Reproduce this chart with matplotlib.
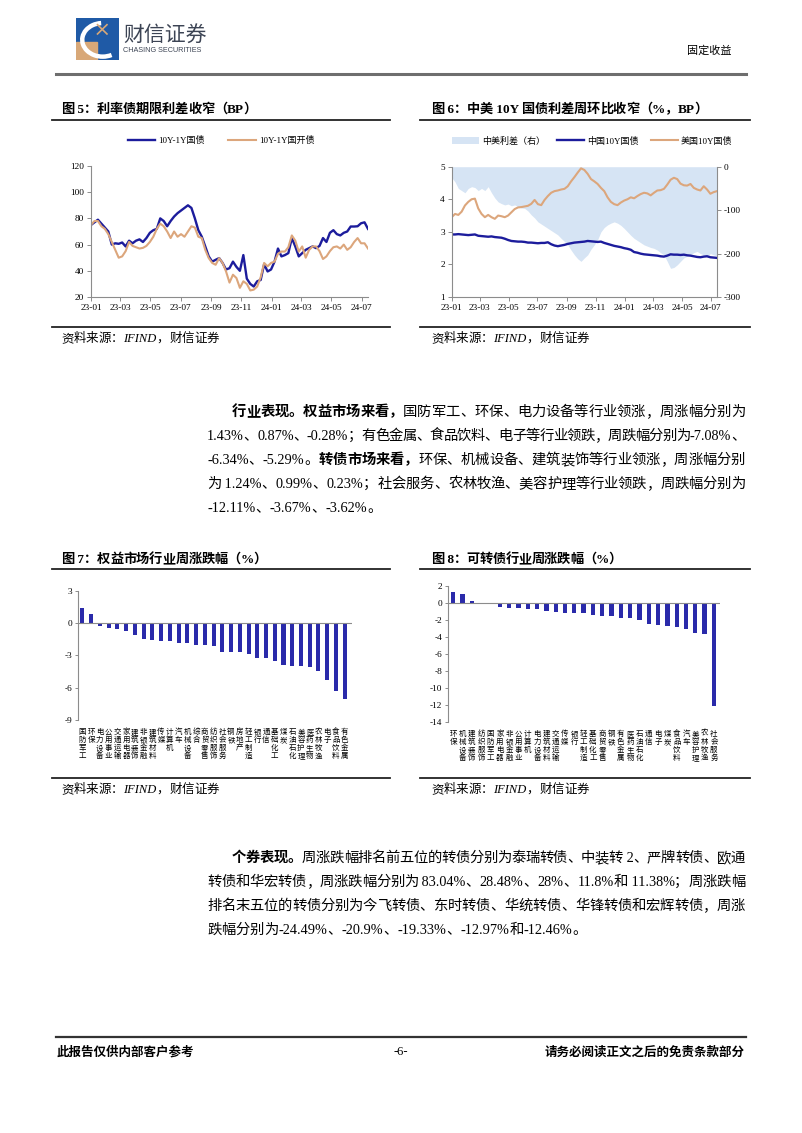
import matplotlib
matplotlib.use('Agg')
import matplotlib.pyplot as plt
import matplotlib.dates as mdates
from matplotlib import patches
from matplotlib.lines import Line2D
import numpy as np
import pandas as pd

# ---------------- data ----------------
dates = pd.date_range('2023-01-01', periods=81, freq='7D')

# 图5 10Y-1Y 期限利差 (BP)
term_gz = [75, 77, 79, 76, 73, 70, 60, 61, 60.6, 61.6,
           58.6, 63, 61, 63, 64, 62, 65, 69, 71, 72,
           80, 78, 74, 78, 81.4, 84, 86, 88, 90, 88,
           80, 71, 66, 58.6, 51, 47, 48.4, 49.7, 46, 41,
           42, 47, 43, 40, 52, 34, 30, 28, 32, 33,
           45, 39.5, 41, 47, 57, 51, 52, 53.5, 65, 58.6,
           51, 53.5, 56, 57.3, 58.6, 57.3, 59, 65, 62, 69,
           71, 68, 67, 69, 70, 73.8, 73.8, 74, 76.3, 77,
           72]
term_gk = [75, 78, 78, 74, 72, 68, 62, 56, 50, 51,
           55, 62, 59, 58, 57, 57.5, 59, 62, 66, 72,
           76, 74, 70, 65, 70, 66, 68, 66, 70, 74,
           73, 66, 65, 56, 49.7, 46, 44.6, 49.7, 46, 39.5,
           31, 37, 34.5, 27, 32, 30, 25, 25.6, 28, 35,
           46, 43.4, 46, 47, 53, 54.7, 54.7, 58, 67, 63,
           54.7, 58.6, 50, 56, 58.6, 58.6, 55, 49, 51, 55,
           58, 58.6, 57, 60, 56, 58, 62, 65, 61, 61,
           57]

# 图6 中美10Y国债 (%) 与利差 (BP)
cn10y = [2.92, 2.92, 2.93, 2.92, 2.91, 2.90, 2.91, 2.92, 2.88, 2.87,
         2.86, 2.85, 2.86, 2.84, 2.83, 2.82, 2.79, 2.75, 2.72, 2.71,
         2.70, 2.70, 2.69, 2.67, 2.67, 2.66, 2.65, 2.66, 2.66, 2.68,
         2.62, 2.58, 2.56, 2.58, 2.60, 2.63, 2.65, 2.67, 2.68, 2.69,
         2.70, 2.72, 2.71, 2.70, 2.69, 2.70, 2.66, 2.63, 2.60, 2.57,
         2.55, 2.53, 2.50, 2.48, 2.45, 2.38, 2.36, 2.33, 2.31, 2.30,
         2.29, 2.28, 2.27, 2.25, 2.24, 2.27, 2.31, 2.30, 2.30, 2.29,
         2.30, 2.28, 2.27, 2.25, 2.23, 2.22, 2.24, 2.25, 2.22, 2.21,
         2.20]
us10y = [3.45, 3.55, 3.52, 3.62, 3.81, 3.92, 4.00, 4.02, 3.72, 3.55,
         3.45, 3.52, 3.45, 3.40, 3.50, 3.48, 3.45, 3.50, 3.60, 3.70,
         3.75, 3.76, 3.78, 3.80, 3.86, 3.98, 3.85, 3.82, 3.98, 4.10,
         4.20, 4.25, 4.27, 4.30, 4.32, 4.40, 4.55, 4.68, 4.82, 4.95,
         4.90, 4.78, 4.62, 4.55, 4.47, 4.35, 4.25, 4.06, 3.92, 3.85,
         3.82, 3.90, 3.96, 4.00, 4.06, 4.03, 4.10, 4.16, 4.20, 4.18,
         4.12, 4.20, 4.27, 4.28, 4.32, 4.45, 4.60, 4.66, 4.62, 4.48,
         4.43, 4.42, 4.47, 4.35, 4.30, 4.27, 4.40, 4.30, 4.17, 4.22,
         4.25]
cn_us_spread = [-25, -35, -50, -55, -60, -50, -46, -48, -55, -50,
                -55, -46, -60, -72, -81, -85, -88, -86, -90, -88,
                -92, -95, -96, -102, -111, -118, -127, -132, -137, -142,
                -147, -152, -157, -165, -172, -180, -192, -203, -212, -218,
                -210, -203, -190, -180, -168, -150, -140, -134, -130, -127,
                -130, -135, -142, -150, -158, -165, -170, -175, -180, -183,
                -186, -188, -192, -198, -203, -218, -234, -232, -226, -218,
                -210, -206, -203, -198, -195, -200, -203, -208, -200, -203,
                -205]

# 图7 权益市场行业周涨跌幅 (%)
eq_inds = ['国防军工', '环保', '电力设备', '公用事业', '交通运输', '家用电器', '建筑装饰',
           '非银金融', '建筑材料', '传媒', '计算机', '汽车', '机械设备', '综合', '商贸零售',
           '纺织服饰', '社会服务', '钢铁', '房地产', '轻工制造', '银行', '通信', '基础化工',
           '煤炭', '石油石化', '美容护理', '医药生物', '农林牧渔', '电子', '食品饮料', '有色金属']
eq_chg = [1.43, 0.87, -0.28, -0.50, -0.60, -0.70, -1.10, -1.45, -1.55, -1.70, -1.70,
          -1.90, -1.90, -2.05, -2.05, -2.15, -2.70, -2.70, -2.70, -2.90, -3.25, -3.25,
          -3.55, -3.90, -4.00, -4.00, -4.07, -4.45, -5.29, -6.34, -7.08]

# 图8 可转债行业周涨跌幅 (%)
cb_inds = ['环保', '机械设备', '建筑装饰', '纺织服饰', '国防军工', '家用电器', '非银金融',
           '公用事业', '计算机', '电力设备', '建筑材料', '交通运输', '传媒', '银行', '轻工制造',
           '基础化工', '商贸零售', '钢铁', '有色金属', '医药生物', '石油石化', '通信', '电子',
           '煤炭', '食品饮料', '汽车', '美容护理', '农林牧渔', '社会服务']
cb_chg = [1.24, 0.99, 0.23, -0.10, -0.20, -0.47, -0.67, -0.67, -0.78, -0.78, -0.94,
          -1.06, -1.18, -1.18, -1.25, -1.45, -1.57, -1.57, -1.80, -1.80, -2.04, -2.50,
          -2.63, -2.75, -2.86, -3.06, -3.62, -3.67, -12.11]

para1 = [
    [('行业表现。权益市场来看，', True), ('国防军工、环保、电力设备等行业领涨，周涨幅分别为', False)],
    [('1.43%、0.87%、-0.28%；有色金属、食品饮料、电子等行业领跌，周跌幅分别为-7.08%、', False)],
    [('-6.34%、-5.29%。', False), ('转债市场来看，', True), ('环保、机械设备、建筑装饰等行业领涨，周涨幅分别', False)],
    [('为 1.24%、0.99%、0.23%；社会服务、农林牧渔、美容护理等行业领跌，周跌幅分别为', False)],
    [('-12.11%、-3.67%、-3.62%。', False)],
]
para2 = [
    [('个券表现。', True), ('周涨跌幅排名前五位的转债分别为泰瑞转债、中装转 2、严牌转债、欧通', False)],
    [('转债和华宏转债，周涨跌幅分别为 83.04%、28.48%、28%、11.8%和 11.38%；周涨跌幅', False)],
    [('排名末五位的转债分别为今飞转债、东时转债、华统转债、华锋转债和宏辉转债，周涨', False)],
    [('跌幅分别为-24.49%、-20.9%、-19.33%、-12.97%和-12.46%。', False)],
]

# ---------------- style ----------------
FAM = ['Liberation Serif', 'Noto Sans CJK SC']
plt.rcParams['font.family'] = FAM
plt.rcParams['axes.unicode_minus'] = False

BLUE = '#1c1c9c'
TAN = '#dca67c'
SHADE = '#d6e4f4'
BAR = '#2a2aaa'
AXC = '#8c8c8c'

W, H = 802, 1133
fig = plt.figure(figsize=(W / 100, H / 100), dpi=100)
renderer = fig.canvas.get_renderer()


def ax_px(l, t, r, b):
    return fig.add_axes([l / W, 1 - b / H, (r - l) / W, (b - t) / H])


def hline(x0, x1, y, lw, color):
    fig.add_artist(Line2D([x0 / W, x1 / W], [1 - y / H, 1 - y / H], lw=lw,
                          color=color, transform=fig.transFigure))


def tokens(s):
    out, buf = [], ''
    for ch in s:
        if ord(ch) < 128:
            buf += ch
        else:
            if buf:
                out.append(buf)
                buf = ''
            out.append(ch)
    if buf:
        out.append(buf)
    return out


def put_line(segs, x0, x1, y, size, justify=True, **kw):
    items = []
    for text, bold in segs:
        for tk in tokens(text):
            t = fig.text(0, 1 - y / H, tk, fontsize=size, family=FAM,
                         fontweight='bold' if bold else 'normal',
                         va='baseline', ha='left', **kw)
            items.append(t)
    widths = [t.get_window_extent(renderer).width for t in items]
    gap = 0
    if justify and len(items) > 1:
        gap = (x1 - x0 - sum(widths)) / (len(items) - 1)
    x = x0
    for t, w in zip(items, widths):
        t.set_x(x / W)
        x += w + gap


def style(ax, right=False):
    for s in ['top', 'right']:
        ax.spines[s].set_visible(False)
    for s in ['left', 'bottom']:
        ax.spines[s].set_color(AXC)
        ax.spines[s].set_linewidth(0.8)
    ax.tick_params(colors=AXC, labelcolor='black', labelsize=6.7, length=3, width=0.7, pad=2)


# ---------------- header ----------------
logo = ax_px(76, 18, 119, 60)
logo.set_xlim(0, 1)
logo.set_ylim(0, 1)
logo.axis('off')
logo.add_patch(patches.Rectangle((0, 0), 1, 1, color='#1f5aa6'))
logo.add_patch(patches.Rectangle((0, 0), 0.48, 0.42, color='#d8a878'))
logo.add_patch(patches.Arc((0.62, 0.48), 0.95, 0.8, theta1=95, theta2=300, lw=3.2, color='white'))
logo.plot([0.5, 0.72], [0.62, 0.84], color='#d8a878', lw=1.2)
logo.plot([0.5, 0.72], [0.84, 0.62], color='#d8a878', lw=1.2)
fig.text(123 / W, 1 - 35 / H, '财信证券', fontsize=15, family='Noto Sans CJK SC',
         color='#3c4454', va='center', ha='left')
fig.text(123 / W, 1 - 51 / H, 'CHASING SECURITIES', fontsize=5.2, family='Liberation Sans',
         color='#3c4454', va='center', ha='left')
fig.text(732 / W, 1 - 51 / H, '固定收益', fontsize=8, family='Noto Sans CJK SC',
         va='center', ha='right')
hline(56, 746, 74, 2.2, '#6e6e6e')

# ---------------- chart titles / frames ----------------
put_line([('图 5：利率债期限利差收窄（BP）', True)], 61, 257, 113, 9.5)
put_line([('图 6：中美 10Y 国债利差周环比收窄（%，BP）', True)], 431, 708, 113, 9.5)
put_line([('图 7：权益市场行业周涨跌幅（%）', True)], 61, 267, 563, 9.5)
put_line([('图 8：可转债行业周涨跌幅（%）', True)], 431, 622, 563, 9.5)
for y in (119.5, 568.5):
    hline(52, 390, y, 1.3, '#222222')
    hline(420, 750, y, 1.3, '#222222')
for y in (327, 778):
    hline(52, 390, y, 1.3, '#222222')
    hline(420, 750, y, 1.3, '#222222')
    put_line([('资料来源：IFIND，财信证券', False)], 61, 0, y + 15, 9, justify=False, style='italic')
    put_line([('资料来源：IFIND，财信证券', False)], 431, 0, y + 15, 9, justify=False, style='italic')

# ---------------- chart 5 ----------------
ax5 = ax_px(91, 166, 368, 297)
ax5.plot(dates, term_gz, color=BLUE, lw=1.7, label='10Y-1Y国债')
ax5.plot(dates, term_gk, color=TAN, lw=1.5, label='10Y-1Y国开债')
ax5.set_xlim(dates[0], dates[-1])
ax5.set_ylim(20, 120)
ax5.set_yticks(range(20, 121, 20))
ax5.xaxis.set_major_locator(mdates.MonthLocator(bymonth=[1, 3, 5, 7, 9, 11]))
ax5.xaxis.set_major_formatter(mdates.DateFormatter('%y-%m'))
style(ax5)
ax5.legend(loc='lower center', bbox_to_anchor=(0.47, 1.1), ncol=2, frameon=False,
           fontsize=6.5, handlelength=3.0, columnspacing=2.6, handletextpad=0.4)

# ---------------- chart 6 ----------------
ax6 = ax_px(451.7, 166.7, 717, 297)
ax6r = ax6.twinx()
fill = ax6r.fill_between(dates, cn_us_spread, 0, color=SHADE, lw=0, label='中美利差（右）')
ax6r.set_ylim(-300, 0)
ax6r.set_yticks([-300, -200, -100, 0])
ax6.set_zorder(ax6r.get_zorder() + 1)
ax6.patch.set_visible(False)
l1, = ax6.plot(dates, cn10y, color=BLUE, lw=1.7, label='中国10Y国债')
l2, = ax6.plot(dates, us10y, color=TAN, lw=1.5, label='美国10Y国债')
ax6.set_xlim(dates[0], dates[-1])
ax6.set_ylim(1, 5)
ax6.set_yticks([1, 2, 3, 4, 5])
ax6.xaxis.set_major_locator(mdates.MonthLocator(bymonth=[1, 3, 5, 7, 9, 11]))
ax6.xaxis.set_major_formatter(mdates.DateFormatter('%y-%m'))
style(ax6)
for s in ['top', 'left', 'bottom']:
    ax6r.spines[s].set_visible(False)
ax6r.spines['right'].set_color(AXC)
ax6r.spines['right'].set_linewidth(0.8)
ax6r.tick_params(colors=AXC, labelcolor='black', labelsize=6.7, length=3, width=0.7, pad=2)
ax6.legend(handles=[fill, l1, l2], loc='lower center', bbox_to_anchor=(0.53, 1.1), ncol=3,
           frameon=False, fontsize=6.5, handlelength=3.0, columnspacing=1.4, handletextpad=0.3)

# ---------------- chart 7 / 8 ----------------
def bar_chart(ax, cats, vals, ylim, yticks, xlim):
    x = np.arange(len(cats))
    ax.bar(x, vals, width=0.46, color=BAR)
    ax.axhline(0, color=AXC, lw=0.8)
    ax.set_xlim(*xlim)
    ax.set_ylim(*ylim)
    ax.set_yticks(yticks)
    style(ax)
    ax.spines['bottom'].set_visible(False)
    ax.set_xticks(x)
    ax.set_xticklabels(['\n'.join(c) for c in cats], fontsize=5.4, family='Noto Sans CJK SC',
                       linespacing=1.0, va='top')
    ax.tick_params(axis='x', length=0, pad=6)
    ax.tick_params(axis='y', length=2, pad=2)


ax7 = ax_px(78, 590.7, 351.7, 720)
bar_chart(ax7, eq_inds, eq_chg, (-9, 3), [-9, -6, -3, 0, 3], (-0.5, 30.8))
ax8 = ax_px(447.7, 585.7, 720, 721.7)
bar_chart(ax8, cb_inds, cb_chg, (-14, 2), list(range(-14, 3, 2)), (-0.6, 28.65))

# ---------------- paragraphs ----------------
for i, segs in enumerate(para1):
    x0 = 232 if i == 0 else 207
    put_line(segs, x0, 745, 416 + 24 * i, 10.3, justify=(i < len(para1) - 1))
for i, segs in enumerate(para2):
    x0 = 232 if i == 0 else 207
    put_line(segs, x0, 745, 862 + 24 * i, 10.3, justify=(i < len(para2) - 1))

# ---------------- footer ----------------
hline(56, 746, 1037, 1.6, '#333333')
fig.text(57 / W, 1 - 1052 / H, '此报告仅供内部客户参考', fontsize=9, fontweight='bold',
         family='Noto Sans CJK SC', va='center', ha='left')
fig.text(401 / W, 1 - 1052 / H, '-6-', fontsize=9, family='Liberation Serif',
         va='center', ha='center')
fig.text(745 / W, 1 - 1052 / H, '请务必阅读正文之后的免责条款部分', fontsize=9, fontweight='bold',
         family='Noto Sans CJK SC', va='center', ha='right')

fig.savefig('out.png', dpi=100)
